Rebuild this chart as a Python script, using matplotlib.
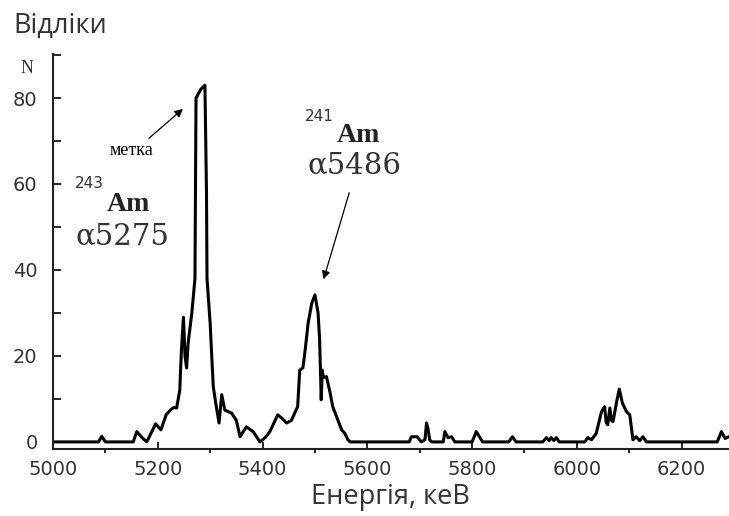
import matplotlib
matplotlib.use("Agg")
import matplotlib.pyplot as plt
from matplotlib.ticker import MultipleLocator

# Spectrum: energy (keV) and counts
energy = [5000, 5087, 5093, 5100, 5153, 5160, 5170, 5179, 5196, 5206,
          5216, 5224, 5230, 5236, 5242, 5245, 5249, 5252, 5255, 5258,
          5265, 5271, 5272, 5273, 5282, 5290, 5293, 5294, 5300, 5303,
          5306, 5312, 5317, 5322, 5328, 5341, 5350, 5357, 5369, 5382,
          5395, 5405, 5414, 5429, 5437, 5446, 5455, 5467, 5471, 5477,
          5481, 5487, 5494, 5500, 5506, 5509, 5512, 5514, 5516, 5522,
          5529, 5534, 5544, 5551, 5557, 5563, 5567, 5680, 5684, 5695,
          5703, 5710, 5713, 5716, 5719, 5723, 5745, 5748, 5754, 5761,
          5767, 5800, 5808, 5820, 5870, 5877, 5884, 5935, 5942, 5947,
          5951, 5956, 5961, 5966, 6015, 6021, 6028, 6037, 6047, 6053,
          6056, 6059, 6063, 6066, 6069, 6076, 6081, 6087, 6095, 6101,
          6107, 6113, 6120, 6126, 6133, 6268, 6276, 6283, 6290]
counts = [0, 0, 1.3, 0, 0, 2.4, 1.0, 0, 4.2, 2.8,
          6.3, 7.4, 8.0, 7.9, 12, 21, 29, 20, 17.2, 23,
          30, 38, 59, 80, 82, 83, 58, 38, 27.6, 20,
          12.8, 8, 4.4, 11, 7.4, 6.7, 5, 1.2, 3.5, 2.4,
          0, 1, 2.4, 6.3, 5.5, 4.4, 5, 8.2, 16.7, 17.2,
          21, 27.6, 32.3, 34.2, 30, 23.7, 9.8, 16.7, 15, 15.2,
          11.4, 8.2, 5, 2.8, 2, 0.5, 0, 0, 1.2, 1.2,
          0, 0.5, 4.4, 3, 0.5, 0, 0, 2.4, 1, 1.2,
          0, 0, 2.4, 0, 0, 1.2, 0, 0, 1, 0.3,
          1, 0.3, 1, 0, 0, 1, 0.5, 2, 7, 8.2,
          4.5, 4, 7.9, 5, 4.7, 9.4, 12.3, 9, 7, 6.3,
          0.5, 1.2, 0.3, 1.2, 0, 0, 2.4, 0.8, 1.2]

fig = plt.figure(figsize=(7.29, 5.16), dpi=100)
ax = fig.add_axes([0.0727, 0.130, 0.927, 0.765])

ax.plot(energy, counts, color="black", lw=2.2)

ax.set_xlim(5000, 6290)
ax.set_ylim(-1.63, 90.2)
ax.spines["top"].set_visible(False)
ax.spines["right"].set_visible(False)
for s in ("left", "bottom"):
    ax.spines[s].set_linewidth(1.5)
    ax.spines[s].set_color("#222222")

ax.xaxis.set_major_locator(MultipleLocator(200))
ax.xaxis.set_minor_locator(MultipleLocator(100))
ax.yaxis.set_major_locator(MultipleLocator(20))
ax.yaxis.set_minor_locator(MultipleLocator(10))
ax.tick_params(axis="x", which="major", direction="in", length=5, width=1.2,
               pad=8, labelsize=14, labelcolor="#333333")
ax.tick_params(axis="x", which="minor", direction="out", length=3, width=1.2)
ax.tick_params(axis="y", which="both", direction="in", length=6, width=1.2,
               pad=11, labelsize=14, labelcolor="#333333")

ax.set_xlabel("Енергія, кеВ", fontsize=19.5, family="Open Sans", color="#333333",
              labelpad=3)
fig.text(0.018, 0.936, "Відліки", fontsize=19.5, family="Open Sans",
         color="#333333", va="baseline", ha="left")
fig.text(0.037, 0.868, "N", fontsize=13, family="Liberation Serif",
         color="#333333", ha="center", va="center")

# annotations
ax.text(5149, 67.9, "метка", fontsize=13, family="Liberation Serif",
        ha="center", va="center")
ax.annotate("", xy=(5252, 77.9), xytext=(5179, 70.2),
            arrowprops=dict(arrowstyle="-|>", color="black", lw=0.9,
                            mutation_scale=12))
ax.text(5042, 60.2, "243", fontsize=11, family="DejaVu Sans",
        color="#333333", ha="left", va="center")
ax.text(5103, 55.3, "Am", fontsize=20, family="Liberation Serif",
        weight="bold", color="#222222", ha="left", va="center")
ax.text(5042, 47.9, "α5275", fontsize=21, family="DejaVu Serif",
        color="#333333", ha="left", va="center")

ax.text(5481, 75.6, "241", fontsize=11, family="DejaVu Sans",
        color="#333333", ha="left", va="center")
ax.text(5542, 71.2, "Am", fontsize=20, family="Liberation Serif",
        weight="bold", color="#222222", ha="left", va="center")
ax.text(5485, 64.4, "α5486", fontsize=21, family="DejaVu Serif",
        color="#333333", ha="left", va="center")
ax.annotate("", xy=(5515, 37.2), xytext=(5567, 58.6),
            arrowprops=dict(arrowstyle="-|>", color="black", lw=0.9,
                            mutation_scale=12))

fig.savefig("out.png", dpi=100)
